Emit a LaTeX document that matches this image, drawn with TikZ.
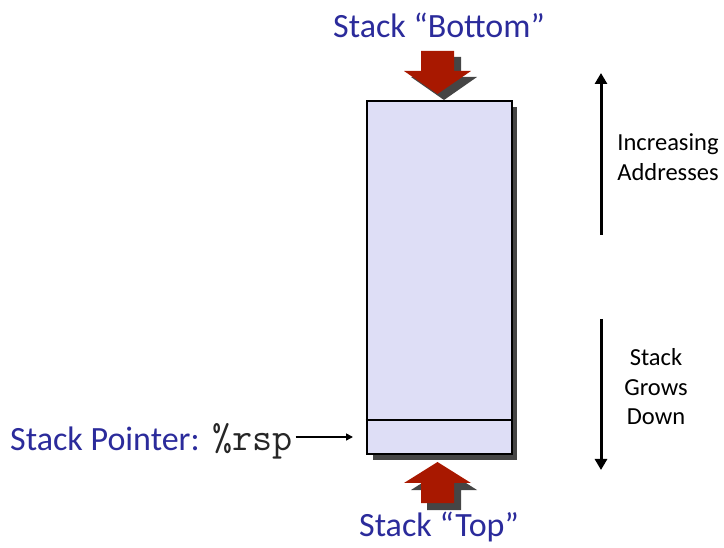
\documentclass[tikz,border=0pt]{standalone}
\usepackage{fontspec}
\setmainfont{Carlito}
\usetikzlibrary{arrows.meta}
\definecolor{navytext}{HTML}{2B2B9B}
\definecolor{stackfill}{HTML}{DEDEF6}
\definecolor{arrred}{HTML}{A81800}
\definecolor{shadowgray}{HTML}{454545}
\tikzset{
  bluelabel/.style={text=navytext, font=\fontsize{34}{40}\selectfont, inner sep=0pt},
  codelabel/.style={text=black!85, font=\ttfamily\fontsize{39}{40}\selectfont, inner sep=0pt},
  sidelabel/.style={text=black, font=\fontsize{24.5}{29.5}\selectfont, align=center, inner sep=0pt},
  stackbox/.style={draw=black, line width=2pt, fill=stackfill},
  shadowbox/.style={fill=shadowgray, draw=none},
  blockarrow/.style={fill=arrred, draw=none},
  bigarrow/.style={line width=3pt, -{Triangle[length=11pt,width=12pt]}},
  ptrarrow/.style={line width=1.6pt, -{Triangle[length=7pt,width=7pt]}}
}
\begin{document}
\begin{tikzpicture}[x=1pt,y=-1pt]
\useasboundingbox (0,0) rectangle (724,548);
% stack shadow and body
\fill[shadowbox] (373,107) rectangle (517,460);
\node[stackbox, minimum width=145pt, minimum height=353pt, anchor=north west, inner sep=0pt] (stack) at (365.5,100) {};
\draw[line width=1.6pt] (stack.west |- 0,420) coordinate (divl) -- (stack.east |- 0,420) coordinate (divr);
% top block arrow (shadow then red)
\fill[shadowgray] (427,57) -- (461,57) -- (461,77) -- (477,77) -- (444,100) -- (411,77) -- (427,77) -- cycle;
\fill[blockarrow] (421,51) -- (454,51) -- (454,71) -- (471,71) -- (437.5,94) -- (404,71) -- (421,71) -- cycle;
% bottom block arrow
\fill[shadowgray] (427,510) -- (461,510) -- (461,490) -- (477,490) -- (444,469) -- (411,490) -- (427,490) -- cycle;
\fill[blockarrow] (421,503) -- (454,503) -- (454,483) -- (471,483) -- (437.5,462) -- (404,483) -- (421,483) -- cycle;
% labels
\node[bluelabel] (bottom) at (439,25) {Stack “Bottom”};
\node[bluelabel] (top) at (439,527) {Stack “Top”};
\node[bluelabel, anchor=base west] (ptr) at (10,450) {Stack Pointer:};
\node[codelabel, anchor=base west] (rsp) at (212,450) {\%rsp};
\coordinate (ptrend) at (353,437);
\draw[ptrarrow] (rsp.east |- ptrend) ++(3,0) coordinate (ptrstart) -- (ptrend);
% right side arrows
\coordinate (upbot) at (601,235);
\coordinate (uptop) at (601,73);
\draw[bigarrow] (upbot) -- (uptop);
\coordinate (dntop) at (601,319);
\coordinate (dnbot) at (601,470);
\draw[bigarrow] (dntop) -- (dnbot);
\node[sidelabel] (incr) at (668,157) {Increasing\\Addresses};
\node[sidelabel] (grows) at (656,387) {Stack\\Grows\\Down};
\end{tikzpicture}
\end{document}
